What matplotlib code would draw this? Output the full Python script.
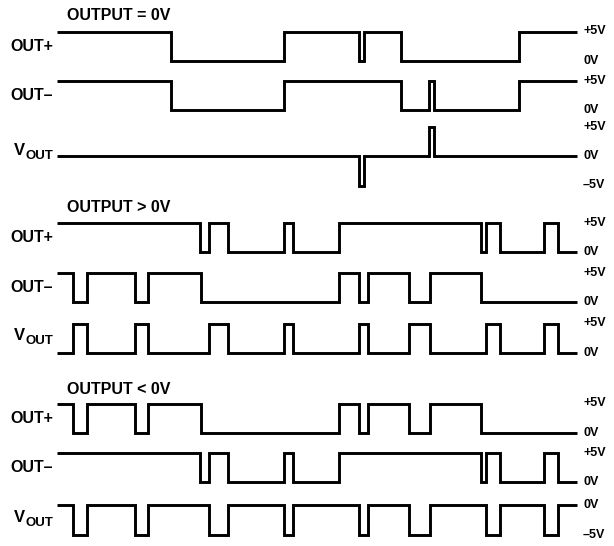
import matplotlib
matplotlib.use("Agg")
import matplotlib.pyplot as plt

plt.rcParams['font.family'] = ['Liberation Sans', 'DejaVu Sans']
plt.rcParams['font.weight'] = 'bold'

# transition times (left edge, switching points, right edge) and the level in volts between them
# OUTPUT = 0V
zero_plus_t = [57, 171, 284, 359, 364, 401, 519, 577]
zero_plus_v = [5, 0, 5, 0, 5, 0, 5]
zero_minus_t = [57, 171, 284, 401, 429, 434, 519, 577]
zero_minus_v = [5, 0, 5, 0, 5, 0, 5]
zero_vout_t = [57, 359, 364, 429, 434, 577]
zero_vout_v = [0, -5, 0, 5, 0]

# OUTPUT > 0V
pos_plus_t = [57, 200, 209, 228, 284, 293, 339, 481, 486, 500, 544, 558, 577]
pos_plus_v = [5, 0, 5, 0, 5, 0, 5, 0, 5, 0, 5, 0]
pos_minus_t = [57, 73, 87, 135, 148, 201, 339, 359, 368, 409, 430, 481, 577]
pos_minus_v = [5, 0, 5, 0, 5, 0, 5, 0, 5, 0, 5, 0]
pos_vout_t = [57, 73, 87, 135, 148, 209, 228, 284, 293, 359, 368, 409, 430,
              486, 500, 544, 558, 577]
pos_vout_v = [0, 5, 0, 5, 0, 5, 0, 5, 0, 5, 0, 5, 0, 5, 0, 5, 0]

# OUTPUT < 0V
neg_plus_t = [57, 73, 87, 135, 148, 201, 339, 359, 368, 409, 430, 481, 577]
neg_plus_v = [5, 0, 5, 0, 5, 0, 5, 0, 5, 0, 5, 0]
neg_minus_t = [57, 200, 209, 228, 284, 293, 339, 481, 486, 500, 544, 558, 577]
neg_minus_v = [5, 0, 5, 0, 5, 0, 5, 0, 5, 0, 5, 0]
neg_vout_t = [57, 73, 87, 135, 148, 209, 228, 284, 293, 359, 368, 409, 430,
              486, 500, 544, 558, 577]
neg_vout_v = [0, -5, 0, -5, 0, -5, 0, -5, 0, -5, 0, -5, 0, -5, 0, -5, 0]

titles = ["OUTPUT = 0V", "OUTPUT > 0V", "OUTPUT < 0V"]

W, H = 614, 546
k = 5.9  # pixels per volt

fig = plt.figure(figsize=(W / 100, H / 100), dpi=100)


def trace(t, v, y0, name, right_labels, label_v):
    # one transparent full-figure axes per trace, 0V sits at pixel row y0
    ax = fig.add_axes([0, 0, 1, 1])
    ax.set_xlim(0, W)
    ax.set_ylim(-(H - y0) / k, y0 / k)
    ax.axis('off')
    ax.patch.set_alpha(0)
    ax.stairs(v, t, baseline=None, color='black', lw=2.1)
    for lv, txt in right_labels:
        ax.text(583, lv, txt, ha='left', va='center', fontsize=9, fontweight='bold')
    if name == 'VOUT':
        sub = ax.text(53, label_v, 'OUT', ha='right', va='center', fontsize=9.5,
                      fontweight='bold')
        ax.annotate('V', xy=(0, 0.5), xycoords=sub, xytext=(0, 4),
                    textcoords='offset points', ha='right', va='center',
                    fontsize=12, fontweight='bold')
    else:
        ax.text(53, label_v, name, ha='right', va='center', fontsize=11.5,
                fontweight='bold')


pm = [(5, '+5V'), (0, '0V')]

trace(zero_plus_t, zero_plus_v, 61, 'OUT+', pm, 2.5)
trace(zero_minus_t, zero_minus_v, 110, 'OUT\u2013', pm, 2.5)
trace(zero_vout_t, zero_vout_v, 156, 'VOUT',
      [(5, '+5V'), (0, '0V'), (-5, '\u20135V')], 0)

trace(pos_plus_t, pos_plus_v, 252, 'OUT+', pm, 2.5)
trace(pos_minus_t, pos_minus_v, 302, 'OUT\u2013', pm, 2.5)
trace(pos_vout_t, pos_vout_v, 353, 'VOUT', pm, 2.0)

trace(neg_plus_t, neg_plus_v, 433, 'OUT+', pm, 2.5)
trace(neg_minus_t, neg_minus_v, 482, 'OUT\u2013', pm, 2.5)
trace(neg_vout_t, neg_vout_v, 505, 'VOUT', [(0, '0V'), (-5, '\u20135V')], -3.0)

for title, ty in zip(titles, [16, 208, 389]):
    fig.text(67 / W, 1 - ty / H, title, ha='left', va='center', fontsize=11.5,
             fontweight='bold')

fig.savefig("out.png", dpi=100)
